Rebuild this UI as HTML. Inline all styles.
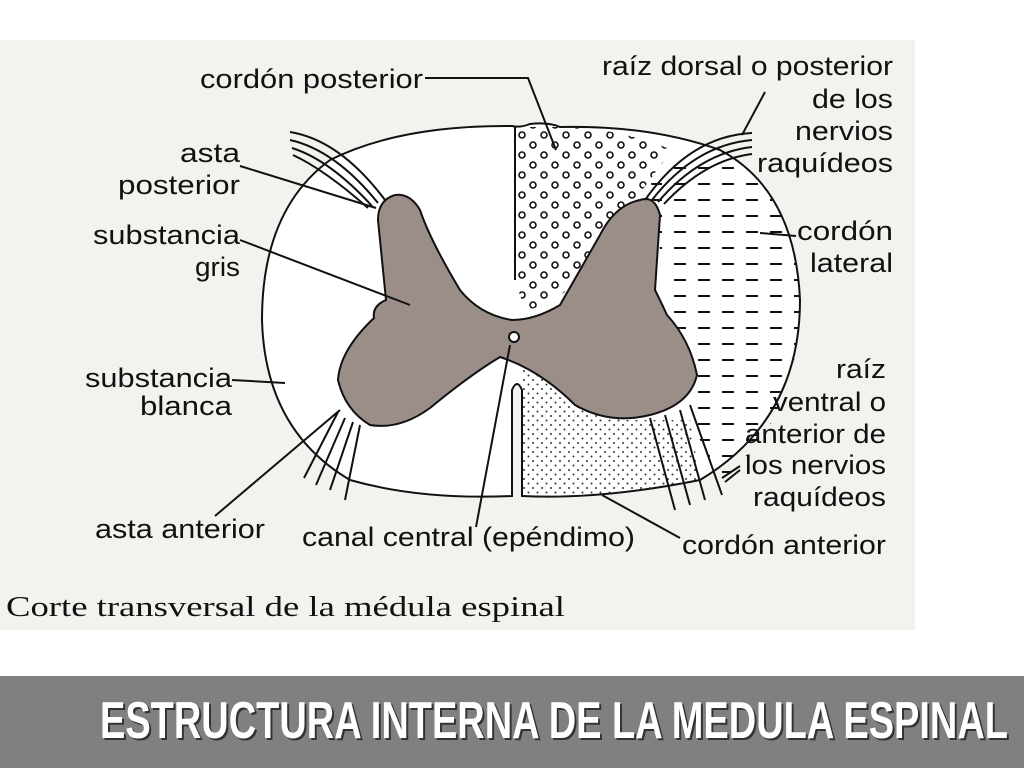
<!DOCTYPE html>
<html><head><meta charset="utf-8"><style>
html,body{margin:0;padding:0;background:#fff;width:1024px;height:768px;overflow:hidden}
svg{display:block}
</style></head><body>
<svg width="1024" height="768" viewBox="0 0 1024 768" xmlns="http://www.w3.org/2000/svg">
<defs>
<pattern id="circ" width="22" height="20" patternUnits="userSpaceOnUse">
<circle cx="5" cy="5" r="3" fill="none" stroke="#111" stroke-width="1.6"/>
<circle cx="16" cy="15" r="3" fill="none" stroke="#111" stroke-width="1.6"/>
</pattern>
<pattern id="dash" width="24" height="16" patternUnits="userSpaceOnUse">
<rect x="2" y="7" width="12" height="2" fill="#111"/>
</pattern>
<pattern id="dots" width="9" height="9" patternUnits="userSpaceOnUse">
<circle cx="2" cy="2" r="1" fill="#333"/><circle cx="6.5" cy="6.5" r="1" fill="#333"/>
</pattern>
</defs>
<rect x="0" y="40" width="915" height="590" fill="#f4f2ee"/>
<g stroke="#111" stroke-width="2" fill="none">
<path d="M512 496 L512 390 Q517 378 522 390 L522 496 Q600 500 700 480 Q800 420 800 300 Q795 190 720 150 Q650 125 560 127 Q548 122 530 124 Q520 128 512 126 Q400 125 330 160 Q262 210 262 320 Q265 430 350 480 Q420 500 512 496 Z" fill="#fff"/>
<path d="M515 127 L515 280 L525 310 Q560 305 585 270 L620 220 L672 150 Q620 128 560 127 Z" fill="url(#circ)" stroke="none"/>
<line x1="515" y1="127" x2="515" y2="280"/>
<path d="M650 175 L720 150 Q795 190 800 300 Q800 420 720 480 L690 420 Q700 370 680 340 L660 250 Z" fill="url(#dash)" stroke="none"/>
<path d="M522 390 L522 496 Q600 500 700 480 L690 420 L620 420 Q560 390 530 357 L522 360 Z" fill="url(#dots)" stroke="none"/>
<path d="M395 195 Q378 200 378 220 L386 300 Q372 306 374 318 Q340 350 338 380 Q345 410 370 425 Q400 430 430 408 Q470 375 500 357 Q540 370 575 405 Q610 425 650 415 Q690 405 697 375 Q690 340 667 315 Q660 300 655 290 L660 215 Q655 195 640 200 Q615 205 600 235 Q580 270 560 305 Q535 320 512 320 Q480 315 460 290 Q430 240 420 210 Q410 193 395 195 Z" fill="#9b8e88"/>
<circle cx="514" cy="337" r="5" fill="#fff"/>
<path d="M290 132 Q340 140 385 200 M290 140 Q335 150 378 203 M292 148 Q330 160 372 206 M293 155 Q325 170 368 208"/>
<path d="M752 133 Q690 136 645 200 M752 140 Q695 145 652 200 M752 147 Q700 153 658 202 M752 154 Q705 160 664 204"/>
<path d="M360 425 L345 500 M353 422 L330 490 M345 418 L316 485 M338 412 L304 478"/>
<path d="M650 418 L675 510 M665 415 L690 505 M680 410 L705 500 M690 405 L722 495"/>
<path d="M425 78 L528 78 L556 150"/>
<path d="M765 92 L742 135"/>
<path d="M240 166 L376 208"/>
<path d="M240 240 L410 305"/>
<path d="M796 236 L760 233"/>
<path d="M232 380 L285 383"/>
<path d="M740 466 L722 478 M740 470 L725 482"/>
<path d="M215 516 L340 410"/>
<path d="M476 527 L510 345"/>
<path d="M680 538 L602 495"/>
</g>
<g font-family="'Liberation Sans',sans-serif" font-size="27" fill="#111">
<text x="200" y="88" textLength="223" lengthAdjust="spacingAndGlyphs">cordón posterior</text>
<text x="602" y="75" textLength="291" lengthAdjust="spacingAndGlyphs">raíz dorsal o posterior</text>
<text x="812" y="108" textLength="81" lengthAdjust="spacingAndGlyphs">de los</text>
<text x="795" y="140" textLength="98" lengthAdjust="spacingAndGlyphs">nervios</text>
<text x="757" y="172" textLength="136" lengthAdjust="spacingAndGlyphs">raquídeos</text>
<text x="180" y="162" textLength="60" lengthAdjust="spacingAndGlyphs">asta</text>
<text x="118" y="194" textLength="122" lengthAdjust="spacingAndGlyphs">posterior</text>
<text x="93" y="244" textLength="147" lengthAdjust="spacingAndGlyphs">substancia</text>
<text x="195" y="276" textLength="45" lengthAdjust="spacingAndGlyphs">gris</text>
<text x="797" y="240" textLength="96" lengthAdjust="spacingAndGlyphs">cordón</text>
<text x="810" y="272" textLength="83" lengthAdjust="spacingAndGlyphs">lateral</text>
<text x="85" y="387" textLength="147" lengthAdjust="spacingAndGlyphs">substancia</text>
<text x="140" y="415" textLength="92" lengthAdjust="spacingAndGlyphs">blanca</text>
<text x="836" y="378" textLength="50" lengthAdjust="spacingAndGlyphs">raíz</text>
<text x="773" y="411" textLength="113" lengthAdjust="spacingAndGlyphs">ventral o</text>
<text x="745" y="443" textLength="141" lengthAdjust="spacingAndGlyphs">anterior de</text>
<text x="745" y="474" textLength="141" lengthAdjust="spacingAndGlyphs">los nervios</text>
<text x="753" y="506" textLength="133" lengthAdjust="spacingAndGlyphs">raquídeos</text>
<text x="95" y="538" textLength="170" lengthAdjust="spacingAndGlyphs">asta anterior</text>
<text x="302" y="546" textLength="333" lengthAdjust="spacingAndGlyphs">canal central (epéndimo)</text>
<text x="682" y="554" textLength="204" lengthAdjust="spacingAndGlyphs">cordón anterior</text>
</g>
<text x="6" y="616" font-family="'Liberation Serif',serif" font-size="28" fill="#111" textLength="559" lengthAdjust="spacingAndGlyphs">Corte transversal de la médula espinal</text>
<rect x="0" y="676" width="1024" height="92" fill="#808080"/>
<text x="102" y="740" font-family="'Liberation Sans',sans-serif" font-weight="bold" font-size="52" fill="#333" textLength="908" lengthAdjust="spacingAndGlyphs">ESTRUCTURA INTERNA DE LA MEDULA ESPINAL</text>
<text x="100" y="738" font-family="'Liberation Sans',sans-serif" font-weight="bold" font-size="52" fill="#fff" textLength="908" lengthAdjust="spacingAndGlyphs">ESTRUCTURA INTERNA DE LA MEDULA ESPINAL</text>
</svg>
</body></html>
